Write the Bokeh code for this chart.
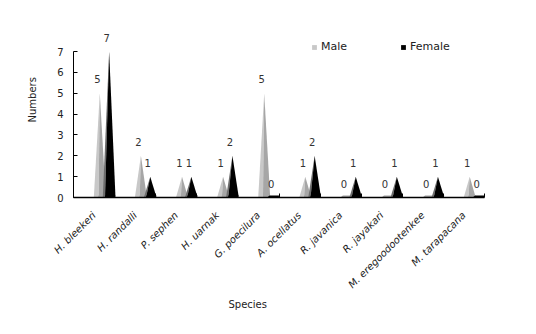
import numpy as np
from math import pi
from bokeh.plotting import figure
from bokeh.models import FixedTicker, Legend, LegendItem, ColumnDataSource, Title
from bokeh.core.properties import value
from bokeh.embed import file_html
from bokeh.resources import INLINE

species = ["H. bleekeri", "H. randalli", "P. sephen", "H. uarnak", "G. poecilura",
           "A. ocellatus", "R. javanica", "R. jayakari", "M. eregoodootenkee", "M. tarapacana"]
male = [5, 2, 1, 1, 5, 1, 0, 0, 0, 1]
female = [7, 1, 1, 2, 0, 2, 1, 1, 1, 0]
y_ticks = [0, 1, 2, 3, 4, 5, 6, 7]

FONT = "DejaVu Sans"
n = len(species)
idx = np.arange(n)

p = figure(width=536, height=334, x_range=(0, n), y_range=(0, 8.49),
           output_backend="svg", toolbar_location=None,
           min_border_left=73, min_border_right=52, min_border_top=20, min_border_bottom=137)
p.outline_line_color = None
p.xgrid.visible = False
p.ygrid.visible = False
p.background_fill_color = "white"
p.border_fill_color = "white"

def pyramid(centers, vals, w, split):
    lx, ly, rx, ry, bx, by = [], [], [], [], [], []
    for c, v in zip(centers, vals):
        lx.append([c - w, c, c + split]); ly.append([0, v, 0])
        rx.append([c + split, c, c + w]); ry.append([0, v, 0])
        bx.append([c - w, c + w - 0.04, c + w, c - w + 0.06]); by.append([0, 0, 0.09, 0.09])
    return lx, ly, rx, ry, bx, by

cm = idx + 0.64
cf = idx + 0.867
mlx, mly, mrx, mry, mbx, mby = pyramid(cm, male, 0.146, -0.03)
flx, fly, frx, fry, fbx, fby = pyramid(cf, female, 0.155, -0.1)

p.patches(mbx, mby, fill_color="#a0a0a0", line_color=None)
m_l = p.patches(mlx, mly, fill_color="#c8c8c8", line_color=None)
m_r = p.patches(mrx, mry, fill_color="#a6a6a6", line_color=None)
p.patches(fbx, fby, fill_color="#000000", line_color=None)
f_l = p.patches(flx, fly, fill_color="#6e6e6e", line_color=None)
f_r = p.patches(frx, fry, fill_color="#000000", line_color=None)

src_m = ColumnDataSource(dict(x=cm - 0.06, y=male, t=[str(v) for v in male]))
src_f = ColumnDataSource(dict(x=cf - 0.06, y=female, t=[str(v) for v in female]))
for src in (src_m, src_f):
    p.text(x="x", y="y", text="t", source=src, text_font=value(FONT), text_font_size="10px",
           text_color="#333333", text_align="center", text_baseline="middle", y_offset=-14)

# axes
xa = p.xaxis[0]
xa.ticker = FixedTicker(ticks=list(idx + 0.5), minor_ticks=list(range(n + 1)))
xa.major_label_overrides = {float(i + 0.5): s for i, s in enumerate(species)}
xa.major_label_orientation = pi / 4
xa.major_tick_line_color = None
xa.minor_tick_in = 4
xa.minor_tick_out = 0
xa.minor_tick_line_color = "black"
xa.axis_line_color = "black"
xa.axis_line_width = 1.5
xa.major_label_text_font = FONT
xa.major_label_text_font_style = "italic"
xa.major_label_text_font_size = "10px"
xa.major_label_text_color = "#222222"
xa.major_label_standoff = 10

ya = p.yaxis[0]
ya.ticker = FixedTicker(ticks=y_ticks)
ya.bounds = (0, 7)
ya.major_tick_in = 4
ya.major_tick_out = 0
ya.minor_tick_line_color = None
ya.axis_line_color = "black"
ya.major_label_text_font = FONT
ya.major_label_text_font_size = "10px"
ya.major_label_text_color = "#222222"
ya.major_label_standoff = 10

p.add_layout(Title(text="Species", align="left", offset=155, standoff=-2,
                   text_font=FONT, text_font_size="10px", text_font_style="normal",
                   text_color="#222222"), "below")
p.add_layout(Title(text="Numbers", align="left", offset=75, standoff=34,
                   text_font=FONT, text_font_size="10px", text_font_style="normal",
                   text_color="#222222"), "left")

legend = Legend(items=[LegendItem(label="Male", renderers=[m_l]),
                       LegendItem(label="Female", renderers=[f_r])],
                orientation="horizontal", location=(238, 144),
                glyph_width=6, glyph_height=6, label_standoff=4, spacing=53,
                padding=0, margin=0, border_line_color=None, background_fill_alpha=0,
                label_text_font=FONT, label_text_font_size="11px", label_text_color="#222222")
p.add_layout(legend)

open("out.html", "w").write(file_html(p, INLINE))
